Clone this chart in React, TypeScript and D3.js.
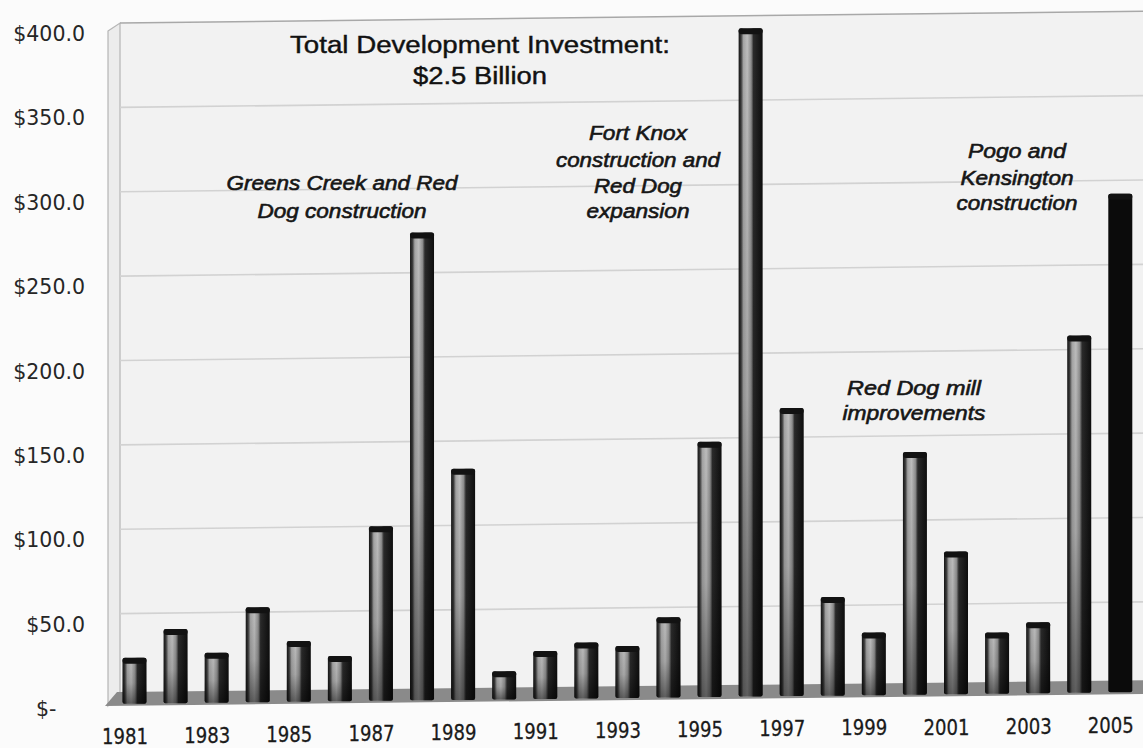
import React from 'react';
import * as d3 from 'd3';

// ---- Data (millions of US$) ----
const years = ['1981','1982','1983','1984','1985','1986','1987','1988','1989','1990','1991','1992','1993','1994','1995','1996','1997','1998','1999','2000','2001','2002','2003','2004','2005'];
const investment = [28, 45, 31, 58, 38, 29, 106, 280, 140, 20, 32, 37, 35, 52, 156, 401, 176, 64, 43, 150, 91, 43, 49, 219, 303];
const yTickValues = [0, 50, 100, 150, 200, 250, 300, 350, 400];
const xTickLabels = ['1981','1983','1985','1987','1989','1991','1993','1995','1997','1999','2001','2003','2005'];
const titleLines = ['Total Development Investment:', '$2.5 Billion'];
const noteGreens = ['Greens Creek and Red', 'Dog construction'];
const noteFortKnox = ['Fort Knox', 'construction and', 'Red Dog', 'expansion'];
const notePogo = ['Pogo and', 'Kensington', 'construction'];
const noteMill = ['Red Dog mill', 'improvements'];

const W = 1143;
const H = 748;
const tilt = -0.0115; // scan tilt (px per px)

export default function App() {
  const y = d3.scaleLinear().domain([0, 400]).range([710, 35]);
  const x = d3.scalePoint<string>().domain(years).range([134.5, 1120.3]);
  const barW = 24;
  const wallLeft = 120;
  const dy = (px: number) => tilt * (px - wallLeft);
  const floorFront = (px: number) => 704 + tilt * (px - 105);
  const fmt = (v: number) => (v === 0 ? '$-' : '$' + d3.format('.1f')(v));

  const annotations = [
    { lines: noteGreens, cx: 342, ys: [185, 213], widths: [231, 169] },
    { lines: noteFortKnox, cx: 638, ys: [135, 162, 188, 213], widths: [98, 164, 88, 103] },
    { lines: notePogo, cx: 1017, ys: [153, 180, 205], widths: [98, 113, 121] },
    { lines: noteMill, cx: 914, ys: [390, 415], widths: [134, 143] },
  ];

  const wallTop = y(400) - 12;

  return (
    <div style={{ position: 'fixed', left: 0, top: 0, width: W, height: H }}>
      <svg width={W} height={H} style={{ display: 'block' }}>
        <defs>
          <linearGradient id="barH" x1="0" x2="1" y1="0" y2="0">
            <stop offset="0" stopColor="#151515" />
            <stop offset="0.1" stopColor="#3a3a3a" />
            <stop offset="0.2" stopColor="#a4a4a4" />
            <stop offset="0.36" stopColor="#bdbdbd" />
            <stop offset="0.52" stopColor="#8e8e8e" />
            <stop offset="0.62" stopColor="#2a2a2a" />
            <stop offset="1" stopColor="#0e0e0e" />
          </linearGradient>
          <linearGradient id="barV" x1="0" x2="0" y1="0" y2="1">
            <stop offset="0" stopColor="#000" stopOpacity="0" />
            <stop offset="0.55" stopColor="#000" stopOpacity="0.12" />
            <stop offset="1" stopColor="#000" stopOpacity="0.5" />
          </linearGradient>
          <filter id="soft" x="-5%" y="-5%" width="110%" height="110%">
            <feGaussianBlur stdDeviation="0.5" />
          </filter>
        </defs>
        <rect x={0} y={0} width={W} height={H} fill="#fbfbfb" />

        {/* back wall */}
        <polygon
          points={`${wallLeft},${wallTop} ${W},${wallTop + dy(W)} ${W},${692 + dy(W)} ${wallLeft},692`}
          fill="#f2f2f2"
        />
        {/* side wall */}
        <polygon
          points={`108,${wallTop + 8} ${wallLeft},${wallTop} ${wallLeft},692 108,706`}
          fill="#ececec"
          stroke="#b5b5b5"
          strokeWidth={1.2}
        />
        <line x1={wallLeft} x2={W} y1={wallTop} y2={wallTop + dy(W)} stroke="#a8a8a8" strokeWidth={1.5} />

        {/* gridlines */}
        {yTickValues.filter(v => v > 0 && v < 400).map(v => {
          const gy = y(v) - 12;
          return (
            <line key={v} x1={wallLeft} x2={W} y1={gy} y2={gy + dy(W)} stroke="#d2d2d2" strokeWidth={1.6} />
          );
        })}

        {/* floor */}
        <polygon
          points={`117,692 ${W},${692 + dy(W)} ${W},${floorFront(W) + 2} 105,${floorFront(105) + 2}`}
          fill="#8a8a8a"
          filter="url(#soft)"
        />

        {/* y labels */}
        {yTickValues.map(v => (
          <text
            key={v}
            x={v === 0 ? 36 : 85}
            y={y(v)}
            textAnchor={v === 0 ? 'start' : 'end'}
            dominantBaseline="middle"
            fontFamily="DejaVu Sans"
            fontSize={20.5}
            fill="#262626"
          >
            {fmt(v)}
          </text>
        ))}

        {/* bars */}
        {years.map((yr, i) => {
          const cx = x(yr)!;
          const top = y(investment[i]) - 5;
          const bottom = floorFront(cx);
          const last = i === years.length - 1;
          return (
            <g key={yr}>
              <rect x={cx - barW / 2} y={top} width={barW} height={bottom - top} rx={2}
                fill={last ? '#0b0b0b' : 'url(#barH)'} />
              {!last && (
                <rect x={cx - barW / 2} y={top} width={barW} height={bottom - top} rx={2} fill="url(#barV)" />
              )}
              <rect x={cx - barW / 2} y={top} width={barW} height={6} rx={3} fill="#121212" />
            </g>
          );
        })}

        {/* x labels */}
        {xTickLabels.map(lbl => {
          const lx = x(lbl)! - 9.5;
          return (
            <text
              key={lbl}
              x={lx}
              y={738 + tilt * (lx - 124)}
              textAnchor="middle"
              dominantBaseline="middle"
              fontFamily="DejaVu Sans"
              fontSize={22}
              textLength={46}
              lengthAdjust="spacingAndGlyphs"
              fill="#1a1a1a"
              stroke="#1a1a1a"
              strokeWidth={0.3}
            >
              {lbl}
            </text>
          );
        })}

        {/* title */}
        {titleLines.map((t, i) => (
          <text
            key={t}
            x={480}
            y={[47, 78][i]}
            textAnchor="middle"
            dominantBaseline="middle"
            fontFamily="Liberation Sans, Arial, sans-serif"
            fontSize={23}
            textLength={[380, 134][i]}
            lengthAdjust="spacingAndGlyphs"
            fill="#111"
            stroke="#111"
            strokeWidth={0.4}
          >
            {t}
          </text>
        ))}

        {/* annotations */}
        {annotations.map((a, k) => (
          <g key={k}>
            {a.lines.map((t, i) => (
              <text
                key={t}
                x={a.cx}
                y={a.ys[i]}
                textAnchor="middle"
                dominantBaseline="middle"
                fontFamily="Liberation Sans, Arial, sans-serif"
                fontStyle="italic"
                fontSize={20}
                textLength={a.widths[i]}
                lengthAdjust="spacingAndGlyphs"
                fill="#161616"
                stroke="#161616"
                strokeWidth={0.6}
              >
                {t}
              </text>
            ))}
          </g>
        ))}
      </svg>
    </div>
  );
}
